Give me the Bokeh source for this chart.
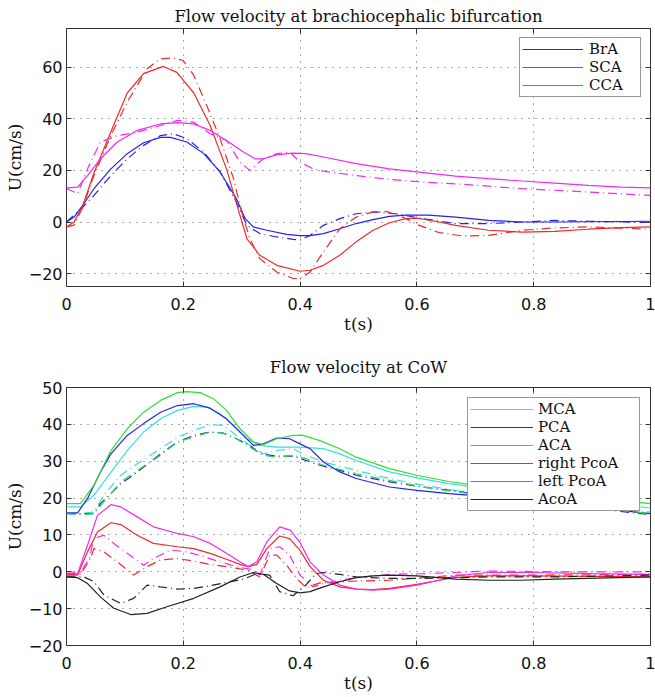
from bokeh.plotting import figure
from bokeh.models import Legend, LegendItem, LinearAxis, FixedTicker, Range1d
from bokeh.layouts import column
from bokeh.embed import file_html
from bokeh.resources import INLINE

# ---------------- data ----------------
x_ticks = [0, 0.2, 0.4, 0.6, 0.8, 1]
x_tick_labels = ["0", "0.2", "0.4", "0.6", "0.8", "1"]
top_y_ticks = [-20, 0, 20, 40, 60]
top_y_tick_labels = ["\u221220", "0", "20", "40", "60"]
bot_y_ticks = [-20, -10, 0, 10, 20, 30, 40, 50]
bot_y_tick_labels = ["\u221220", "\u221210", "0", "10", "20", "30", "40", "50"]

top_title = "Flow velocity at brachiocephalic bifurcation"
bot_title = "Flow velocity at CoW"
x_label = "t(s)"
y_label = "U(cm/s)"

# top panel: model (solid) and measured (dash-dot)
bra_t = [0, 0.013, 0.028, 0.047, 0.076, 0.104, 0.132, 0.161, 0.178, 0.206, 0.235, 0.263, 0.291, 0.306, 0.32, 0.343, 0.377, 0.40, 0.417, 0.44, 0.468, 0.496, 0.525, 0.553, 0.58, 0.62, 0.666, 0.723, 0.78, 0.84, 1.0]
bra_u = [0, 1.9, 6.5, 12.9, 20.6, 26.5, 30.7, 32.8, 32.8, 31.0, 26.5, 19.4, 9.0, 1.3, -1.9, -3.2, -4.8, -5.3, -5.3, -4.5, -2.6, -0.6, 0.9, 2.2, 2.7, 2.7, 1.9, 0.6, 0.0, 0.0, 0.3]
bra_m_t = [0, 0.028, 0.047, 0.076, 0.104, 0.132, 0.161, 0.183, 0.206, 0.235, 0.263, 0.291, 0.309, 0.331, 0.36, 0.388, 0.40, 0.417, 0.44, 0.468, 0.496, 0.53, 0.564, 0.61, 0.666, 0.723, 0.78, 0.836, 0.893, 1.0]
bra_m_u = [0, 5.8, 10.3, 18.0, 24.5, 29.7, 33.5, 34.2, 32.3, 27.1, 19.4, 7.7, -1.3, -4.5, -5.8, -6.7, -7.0, -5.2, -1.3, 1.3, 3.2, 3.9, 3.2, 1.3, -0.6, -0.6, 0.0, 0.6, 0.3, -0.2]

sca_t = [0, 0.013, 0.028, 0.047, 0.076, 0.104, 0.132, 0.166, 0.189, 0.218, 0.246, 0.274, 0.297, 0.309, 0.331, 0.36, 0.40, 0.417, 0.44, 0.468, 0.496, 0.525, 0.553, 0.581, 0.60, 0.638, 0.666, 0.723, 0.78, 0.836, 0.893, 0.95, 1.0]
sca_u = [-1.9, 0.0, 6.5, 19.0, 35.0, 50.0, 57.5, 60.3, 58.0, 50.0, 37.4, 20.6, 2.6, -6.5, -12.9, -16.8, -19.1, -18.7, -16.8, -12.9, -7.7, -3.2, -0.3, 1.3, 1.5, 0.0, -1.3, -3.2, -3.9, -3.6, -2.8, -2.2, -1.9]
sca_m_t = [0, 0.013, 0.028, 0.047, 0.076, 0.104, 0.138, 0.16, 0.183, 0.20, 0.218, 0.24, 0.263, 0.286, 0.30, 0.314, 0.331, 0.36, 0.388, 0.40, 0.417, 0.44, 0.468, 0.496, 0.525, 0.547, 0.576, 0.604, 0.638, 0.678, 0.723, 0.78, 0.836, 0.893, 1.0]
sca_m_u = [-1.9, -1.2, 5.8, 18.0, 33.5, 46.5, 59.4, 63.2, 63.6, 62.6, 56.8, 45.2, 32.3, 16.8, 3.9, -6.5, -14.2, -19.4, -21.9, -21.9, -19.4, -11.6, -2.6, 1.9, 3.9, 4.1, 1.9, -1.3, -4.1, -5.4, -5.2, -3.2, -2.3, -1.9, -2.8]

cca_t = [0, 0.019, 0.036, 0.058, 0.087, 0.121, 0.161, 0.19, 0.218, 0.246, 0.274, 0.303, 0.323, 0.337, 0.36, 0.388, 0.41, 0.44, 0.496, 0.553, 0.60, 0.666, 0.723, 0.78, 0.836, 0.893, 0.95, 1.0]
cca_u = [13.2, 13.5, 18.0, 24.5, 31.0, 35.5, 38.0, 38.5, 38.0, 35.5, 31.6, 27.1, 24.5, 24.5, 26.0, 26.7, 26.5, 25.2, 22.6, 20.6, 19.4, 17.8, 16.8, 15.9, 15.1, 14.2, 13.5, 13.2]
cca_m_t = [0, 0.019, 0.036, 0.058, 0.087, 0.121, 0.161, 0.19, 0.218, 0.246, 0.274, 0.297, 0.314, 0.337, 0.36, 0.382, 0.40, 0.422, 0.44, 0.496, 0.553, 0.61, 0.666, 0.723, 0.78, 0.836, 0.893, 1.0]
cca_m_u = [13.0, 11.0, 20.6, 31.0, 33.5, 34.8, 37.4, 39.4, 38.7, 34.2, 31.6, 23.2, 20.0, 24.5, 26.5, 27.1, 23.2, 20.6, 19.7, 18.0, 16.5, 15.5, 14.8, 13.9, 12.9, 12.3, 11.6, 10.3]

# bottom panel
mca_t = [0, 0.024, 0.047, 0.076, 0.104, 0.132, 0.161, 0.19, 0.218, 0.24, 0.263, 0.286, 0.309, 0.331, 0.36, 0.40, 0.44, 0.468, 0.496, 0.553, 0.60, 0.655, 0.80, 1.0]
mca_u = [17.6, 17.6, 20.8, 27.0, 32.9, 37.9, 41.5, 43.8, 44.9, 44.7, 42.9, 39.7, 36.1, 34.3, 33.8, 33.8, 33.4, 32.0, 30.2, 27.1, 25.5, 23.9, 20.8, 17.3]
mca_m_t = [0, 0.024, 0.047, 0.064, 0.093, 0.121, 0.161, 0.19, 0.218, 0.246, 0.269, 0.291, 0.314, 0.337, 0.36, 0.388, 0.41, 0.44, 0.496, 0.553, 0.61, 0.666, 0.80, 1.0]
mca_m_u = [15.8, 15.8, 16.2, 20.8, 26.2, 29.3, 33.4, 36.5, 38.4, 39.9, 39.7, 37.0, 34.3, 32.0, 32.9, 33.4, 31.6, 29.8, 27.5, 25.3, 23.5, 22.1, 19.4, 16.2]

pca_t = [0, 0.019, 0.036, 0.058, 0.076, 0.104, 0.132, 0.161, 0.19, 0.218, 0.246, 0.274, 0.297, 0.32, 0.337, 0.36, 0.382, 0.40, 0.417, 0.44, 0.468, 0.496, 0.553, 0.60, 0.655, 0.80, 0.893, 1.0]
pca_u = [16.0, 16.0, 19.9, 27.0, 32.0, 37.0, 40.2, 43.3, 45.1, 45.6, 44.4, 41.5, 37.9, 34.3, 34.7, 36.3, 36.1, 34.7, 33.4, 29.8, 27.1, 25.3, 23.0, 22.1, 21.2, 19.4, 17.6, 15.8]
pca_m_t = [0, 0.047, 0.058, 0.093, 0.121, 0.161, 0.19, 0.218, 0.246, 0.269, 0.291, 0.314, 0.331, 0.36, 0.388, 0.41, 0.434, 0.468, 0.496, 0.553, 0.61, 0.666, 0.80, 1.0]
pca_m_u = [15.8, 15.8, 18.5, 23.9, 27.0, 32.0, 35.2, 37.0, 37.9, 37.6, 36.1, 34.3, 32.0, 31.4, 31.4, 30.2, 28.9, 27.5, 26.2, 24.4, 23.0, 21.9, 19.0, 15.5]

aca_t = [0, 0.024, 0.047, 0.076, 0.104, 0.132, 0.161, 0.19, 0.206, 0.229, 0.252, 0.274, 0.297, 0.32, 0.337, 0.36, 0.388, 0.405, 0.434, 0.468, 0.496, 0.553, 0.60, 0.655, 0.695, 0.80, 0.90, 1.0]
aca_u = [18.5, 18.5, 23.5, 32.9, 38.8, 43.3, 46.5, 48.6, 48.9, 48.6, 46.9, 43.8, 38.8, 35.2, 34.5, 36.1, 37.0, 37.0, 35.6, 33.4, 31.1, 28.0, 26.2, 24.5, 23.6, 21.7, 20.0, 18.5]
aca_m_t = [0, 0.024, 0.047, 0.064, 0.093, 0.121, 0.161, 0.19, 0.218, 0.246, 0.269, 0.291, 0.314, 0.337, 0.36, 0.388, 0.41, 0.44, 0.496, 0.553, 0.61, 0.666, 0.80, 1.0]
aca_m_u = [15.8, 15.5, 15.8, 19.0, 24.4, 27.5, 31.6, 35.2, 36.6, 37.9, 37.6, 36.1, 33.8, 31.6, 31.1, 31.6, 30.7, 28.9, 26.6, 24.8, 23.0, 21.7, 19.0, 15.8]

rpc_t = [0, 0.019, 0.036, 0.053, 0.076, 0.093, 0.121, 0.149, 0.19, 0.218, 0.246, 0.274, 0.297, 0.311, 0.326, 0.343, 0.365, 0.382, 0.40, 0.417, 0.44, 0.468, 0.496, 0.525, 0.553, 0.60, 0.638, 0.666, 0.723, 0.80, 1.0]
rpc_u = [-0.9, -0.9, 5.4, 10.8, 13.3, 12.8, 9.9, 7.7, 6.8, 6.3, 5.0, 3.4, 2.0, 1.4, 2.0, 6.3, 9.7, 9.0, 5.8, 1.4, -2.3, -4.1, -4.7, -4.8, -4.5, -3.4, -2.3, -1.5, -1.1, -1.1, -1.4]
rpc_m_t = [0, 0.024, 0.041, 0.047, 0.064, 0.087, 0.115, 0.138, 0.161, 0.19, 0.218, 0.246, 0.274, 0.309, 0.331, 0.348, 0.36, 0.377, 0.394, 0.41, 0.434, 0.496, 0.553, 0.61, 0.666, 0.80, 1.0]
rpc_m_u = [-0.7, -0.7, 3.6, 6.3, 5.4, 2.7, -0.9, 1.4, 3.2, 3.6, 2.9, 2.0, 1.4, 0.5, -1.4, 4.5, 4.5, 1.8, -1.8, -4.3, -3.0, -2.5, -2.3, -1.6, -0.9, -0.9, -0.7]

lpc_t = [0, 0.019, 0.036, 0.053, 0.076, 0.093, 0.121, 0.149, 0.19, 0.218, 0.246, 0.274, 0.297, 0.311, 0.326, 0.343, 0.365, 0.383, 0.40, 0.417, 0.44, 0.468, 0.496, 0.525, 0.553, 0.60, 0.638, 0.666, 0.723, 0.80, 0.90, 1.0]
lpc_u = [-0.5, -0.5, 7.2, 15.3, 18.2, 17.6, 14.9, 12.2, 10.4, 9.5, 7.7, 5.0, 2.7, 1.4, 2.7, 8.1, 12.2, 11.3, 7.9, 2.7, -0.9, -3.6, -4.7, -5.0, -4.7, -3.6, -2.3, -1.1, -0.2, -0.2, -0.5, -0.7]
lpc_m_t = [0, 0.024, 0.039, 0.047, 0.064, 0.081, 0.104, 0.132, 0.149, 0.178, 0.206, 0.235, 0.263, 0.291, 0.32, 0.331, 0.348, 0.365, 0.382, 0.40, 0.422, 0.44, 0.468, 0.496, 0.553, 0.61, 0.666, 0.723, 0.836, 1.0]
lpc_m_u = [0.0, -0.2, 3.6, 9.0, 9.9, 7.7, 5.0, 1.8, 3.6, 5.9, 5.4, 4.1, 2.7, 1.4, 0.5, -0.9, 6.3, 6.8, 4.5, -0.9, -4.1, -3.2, -2.3, -1.6, -0.7, -0.5, -0.2, 0.2, 0.0, 0.0]

aco_t = [0, 0.019, 0.036, 0.058, 0.081, 0.11, 0.138, 0.172, 0.218, 0.263, 0.297, 0.32, 0.337, 0.36, 0.382, 0.40, 0.417, 0.44, 0.468, 0.496, 0.525, 0.553, 0.60, 0.638, 0.666, 0.723, 0.78, 0.836, 1.0]
aco_u = [-1.4, -1.6, -3.2, -6.8, -9.9, -11.6, -11.3, -9.5, -7.2, -4.1, -1.4, -0.2, -0.7, -3.2, -5.2, -5.7, -5.4, -4.1, -2.7, -1.6, -1.1, -0.9, -1.1, -1.6, -2.0, -2.3, -2.3, -2.0, -1.4]
aco_m_t = [0, 0.03, 0.047, 0.064, 0.093, 0.115, 0.138, 0.161, 0.19, 0.218, 0.246, 0.274, 0.303, 0.326, 0.348, 0.365, 0.388, 0.41, 0.427, 0.44, 0.468, 0.496, 0.553, 0.61, 0.666, 0.723, 0.836, 1.0]
aco_m_u = [-1.4, -1.4, -2.7, -6.3, -8.6, -7.2, -3.6, -4.1, -4.7, -4.5, -3.8, -2.9, -2.0, -0.5, -0.9, -5.4, -6.5, -3.6, -0.5, -0.2, -0.7, -1.4, -1.8, -1.8, -1.6, -1.4, -1.4, -0.9]

# ---------------- styling ----------------
BLUE = "#2323ee"
RED = "#f02a2a"
MAGENTA = "#f02af0"
CYAN = "#33e0e0"
GREEN = "#33dd33"
BLACK = "#222222"
DASH = "9 4 1 4"
SERIF = "DejaVu Serif"
SANS = "DejaVu Sans"


def make_fig(title, yr, yticks, ylabels, height, top, bottom, title_standoff):
    p = figure(width=655, height=height, x_range=Range1d(0, 1), y_range=Range1d(*yr),
               output_backend="svg", toolbar_location=None,
               min_border_left=66, min_border_right=5,
               min_border_top=top, min_border_bottom=bottom)
    p.title.text = title
    p.title.text_font = SERIF
    p.title.text_font_size = "16.5px"
    p.title.text_font_style = "normal"
    p.title.align = "center"
    p.title.standoff = title_standoff
    p.title.text_color = "#111111"
    p.outline_line_color = "#333333"
    p.outline_line_width = 1

    xo = dict(zip(x_ticks, x_tick_labels))
    yo = dict(zip(yticks, ylabels))

    p.add_layout(LinearAxis(), "right")
    p.add_layout(LinearAxis(), "above")

    for ax in p.xaxis:
        ax.ticker = FixedTicker(ticks=x_ticks)
        ax.major_label_overrides = xo
    for ax in p.yaxis:
        ax.ticker = FixedTicker(ticks=yticks)
        ax.major_label_overrides = yo
    for ax in p.axis:
        ax.major_tick_in = 5
        ax.major_tick_out = 0
        ax.minor_tick_line_color = None
        ax.axis_line_color = None
        ax.major_tick_line_color = "#333333"
        ax.major_label_text_font = SANS
        ax.major_label_text_font_size = "16px"
        ax.major_label_text_color = "#111111"
        ax.major_label_standoff = 4
    for ax in p.right + p.above:
        ax.major_label_text_font_size = "1px"
        ax.major_label_text_color = None
        ax.major_label_standoff = 0
    xa = p.below[0]
    ya = p.left[0]
    xa.major_label_standoff = 11
    xa.axis_label = x_label
    ya.axis_label = y_label
    for ax in (xa, ya):
        ax.axis_label_text_font = SERIF
        ax.axis_label_text_font_size = "17px"
        ax.axis_label_text_font_style = "normal"
        ax.axis_label_text_color = "#111111"
        ax.axis_label_standoff = 1

    p.xgrid.ticker = FixedTicker(ticks=x_ticks)
    p.ygrid.ticker = FixedTicker(ticks=yticks)
    p.grid.grid_line_color = "#555555"
    p.grid.grid_line_dash = "1 6"
    p.grid.grid_line_width = 1
    return p


def legend_for(p, items, glyph_w, label_w, pad, standoff, row_h, margin):
    lg = Legend(items=items, location="top_right", margin=margin, padding=pad, spacing=0,
                label_height=row_h, glyph_height=row_h, glyph_width=glyph_w,
                label_standoff=standoff, label_width=label_w,
                label_text_font=SERIF, label_text_font_size="15px",
                label_text_color="#111111",
                border_line_color="#333333", border_line_width=1,
                background_fill_color="white", background_fill_alpha=1)
    p.add_layout(lg)


# ---- top figure ----
p1 = make_fig(top_title, (-25, 75), top_y_ticks, top_y_tick_labels, 340, 28, 54, 5)
top_series = [("BrA", BLUE, bra_t, bra_u, bra_m_t, bra_m_u),
              ("SCA", RED, sca_t, sca_u, sca_m_t, sca_m_u),
              ("CCA", MAGENTA, cca_t, cca_u, cca_m_t, cca_m_u)]
items1 = []
for name, col, t, u, mt, mu in top_series:
    r = p1.line(t, u, line_color=col, line_width=1.2)
    p1.line(mt, mu, line_color=col, line_width=1.2, line_dash=DASH)
    items1.append(LegendItem(label=name, renderers=[r]))
legend_for(p1, items1, 61, 49, 2, 6, 18, 9)

# ---- bottom figure ----
p2 = make_fig(bot_title, (-20, 50), bot_y_ticks, bot_y_tick_labels, 357, 47, 52, 21)
bot_series = [("MCA", CYAN, mca_t, mca_u, mca_m_t, mca_m_u),
              ("PCA", BLUE, pca_t, pca_u, pca_m_t, pca_m_u),
              ("ACA", GREEN, aca_t, aca_u, aca_m_t, aca_m_u),
              ("right PcoA", RED, rpc_t, rpc_u, rpc_m_t, rpc_m_u),
              ("left PcoA", MAGENTA, lpc_t, lpc_u, lpc_m_t, lpc_m_u),
              ("AcoA", BLACK, aco_t, aco_u, aco_m_t, aco_m_u)]
items2 = []
for name, col, t, u, mt, mu in bot_series:
    r = p2.line(t, u, line_color=col, line_width=1.2)
    p2.line(mt, mu, line_color=col, line_width=1.2, line_dash=DASH)
    items2.append(LegendItem(label=name, renderers=[r]))
legend_for(p2, items2, 63, 99, 2, 5, 18, 10)

layout = column(p1, p2, spacing=0)
open("out.html", "w").write(file_html(layout, INLINE))
